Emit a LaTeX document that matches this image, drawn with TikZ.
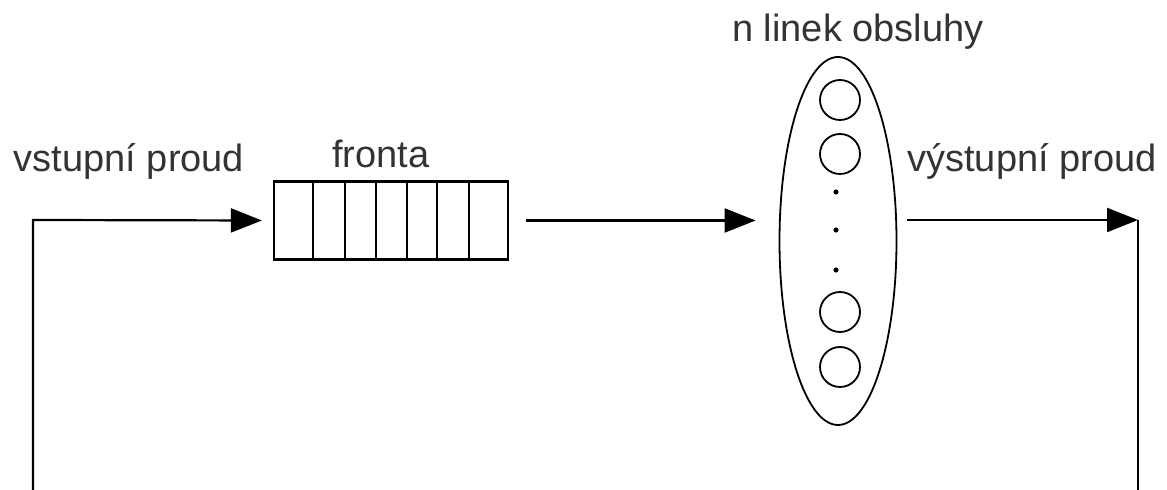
\documentclass[tikz,border=0pt]{standalone}
\usepackage{fontspec}
\setmainfont{Liberation Sans}
\usepackage{xcolor}
\usepackage{tikz}
\usetikzlibrary{shapes.geometric}
\usetikzlibrary{arrows.meta}
\definecolor{textgray}{HTML}{333333}

\begin{document}
\begin{tikzpicture}[x=0.5pt, y=-0.5pt,
  buffer/.style={rectangle, draw=black, line width=1.1pt, minimum width=117pt, minimum height=39pt, inner sep=0pt},
  station/.style={ellipse, draw=black, line width=0.9pt, minimum width=58.5pt, minimum height=184pt, inner sep=0pt},
  channel/.style={circle, draw=black, line width=0.9pt, minimum size=20pt, inner sep=0pt},
  caption/.style={anchor=base, text=textgray, font=\fontsize{19}{23}\selectfont},
  line/.style={draw, line width=1.1pt, -{Triangle[length=15.5pt, width=12pt]}}]
\useasboundingbox (0,0) rectangle (1167,490);
% queue and servers
\node[buffer] (queue) at (391,220.5) {};
\foreach \x in {313,345,376,407,437,469}
  \draw[line width=1.1pt] (\x,182) -- (\x,259);
\node[station] (servers) at (838,241) {};
\foreach \y [count=\i] in {100,154,312,367}
  \node[channel] (ch\i) at (840,\y) {};
\foreach \y in {192,230,270}
  \fill[black] (836,\y) circle (1.3pt);
% labels
\node[caption] (inlabel) at (129,172) {vstupní proud};
\node[caption] (qlabel) at (381,168) {fronta};
\node[caption] (slabel) at (858,42) {n linek obsluhy};
\node[caption] (outlabel) at (1032,172) {výstupní proud};
% connectors
\coordinate (inbottom) at (33,490);
\coordinate (incorner) at (33,220);
\coordinate (outcorner) at (1138,220);
\coordinate (outbottom) at (1138,490);
\begin{scope}[every path/.style=line]
\path (inbottom) -- (incorner) -- ([xshift=-5.5pt]queue.west);
\path[shorten <=8.5pt, shorten >=11.5pt] (queue.east) -- (servers.west |- queue.east);
\path[shorten <=5pt] (servers.east |- outcorner) -- (outcorner);
\end{scope}
\draw[line width=1.1pt] (outcorner) -- (outbottom);
\end{tikzpicture}
\end{document}
